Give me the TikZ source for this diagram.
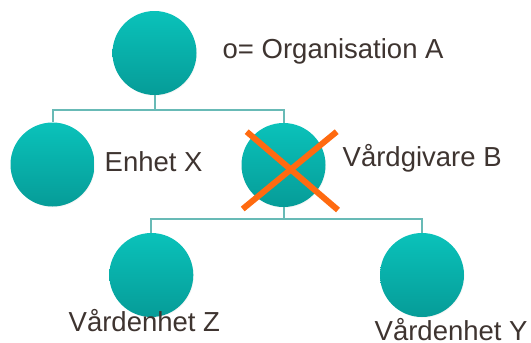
\documentclass[tikz,border=0pt]{standalone}
\usepackage{fontspec}
\setmainfont{Liberation Sans}
\usetikzlibrary{shadows}
\definecolor{tealtop}{RGB}{10,194,186}
\definecolor{tealbot}{RGB}{6,156,152}
\definecolor{linecol}{RGB}{104,186,182}
\definecolor{txtcol}{RGB}{62,52,48}
\definecolor{crosscol}{RGB}{255,106,16}
\begin{document}
\begin{tikzpicture}[x=1pt,y=-1pt,
  unit/.style={circle, minimum size=84pt, inner sep=0pt, top color=tealtop, bottom color=tealbot, draw=none,
    circular drop shadow={shadow xshift=0.8pt, shadow yshift=-1.2pt, shadow scale=1.0, opacity=0.3}},
  lbl/.style={anchor=base west, inner sep=0pt, text=txtcol, font=\fontsize{27.5}{30}\selectfont},
  conn/.style={draw=linecol, line width=2pt},
  cross/.style={draw=crosscol, line width=6pt}]
\useasboundingbox (0,0) rectangle (531,343);
\node[unit] (A) at (154.5,53) {};
\node[unit] (X) at (52.5,164.5) {};
\node[unit] (B) at (283.5,165) {};
\node[unit] (Z) at (151.3,275) {};
\node[unit] (Y) at (422,275) {};
\coordinate (j1) at (154.5,109.5);
\coordinate (j2) at (283.5,218.5);
\draw[conn] (A.south) -- (j1);
\draw[conn] (j1) -| (X.north);
\draw[conn] (j1) -| (B.north);
\draw[conn] (B.south) -- (j2);
\draw[conn] (j2) -| (Z.north);
\draw[conn] (j2) -| (Y.north);
\node[lbl] (tA) at (222.5,58.3) {o= Organisation A};
\node[lbl] (tX) at (104.5,171.7) {Enhet X};
\node[lbl] (tB) at (342.5,166.7) {Vårdgivare B};
\node[lbl] (tZ) at (68.5,331.7) {Vårdenhet Z};
\node[lbl] (tY) at (374.5,340) {Vårdenhet Y};
\coordinate (c1) at (246.7,131.7);
\coordinate (c2) at (338,210);
\coordinate (c3) at (336.7,131.7);
\coordinate (c4) at (242.7,209);
\draw[cross] (c1) -- (c2);
\draw[cross] (c3) -- (c4);
\end{tikzpicture}
\end{document}
